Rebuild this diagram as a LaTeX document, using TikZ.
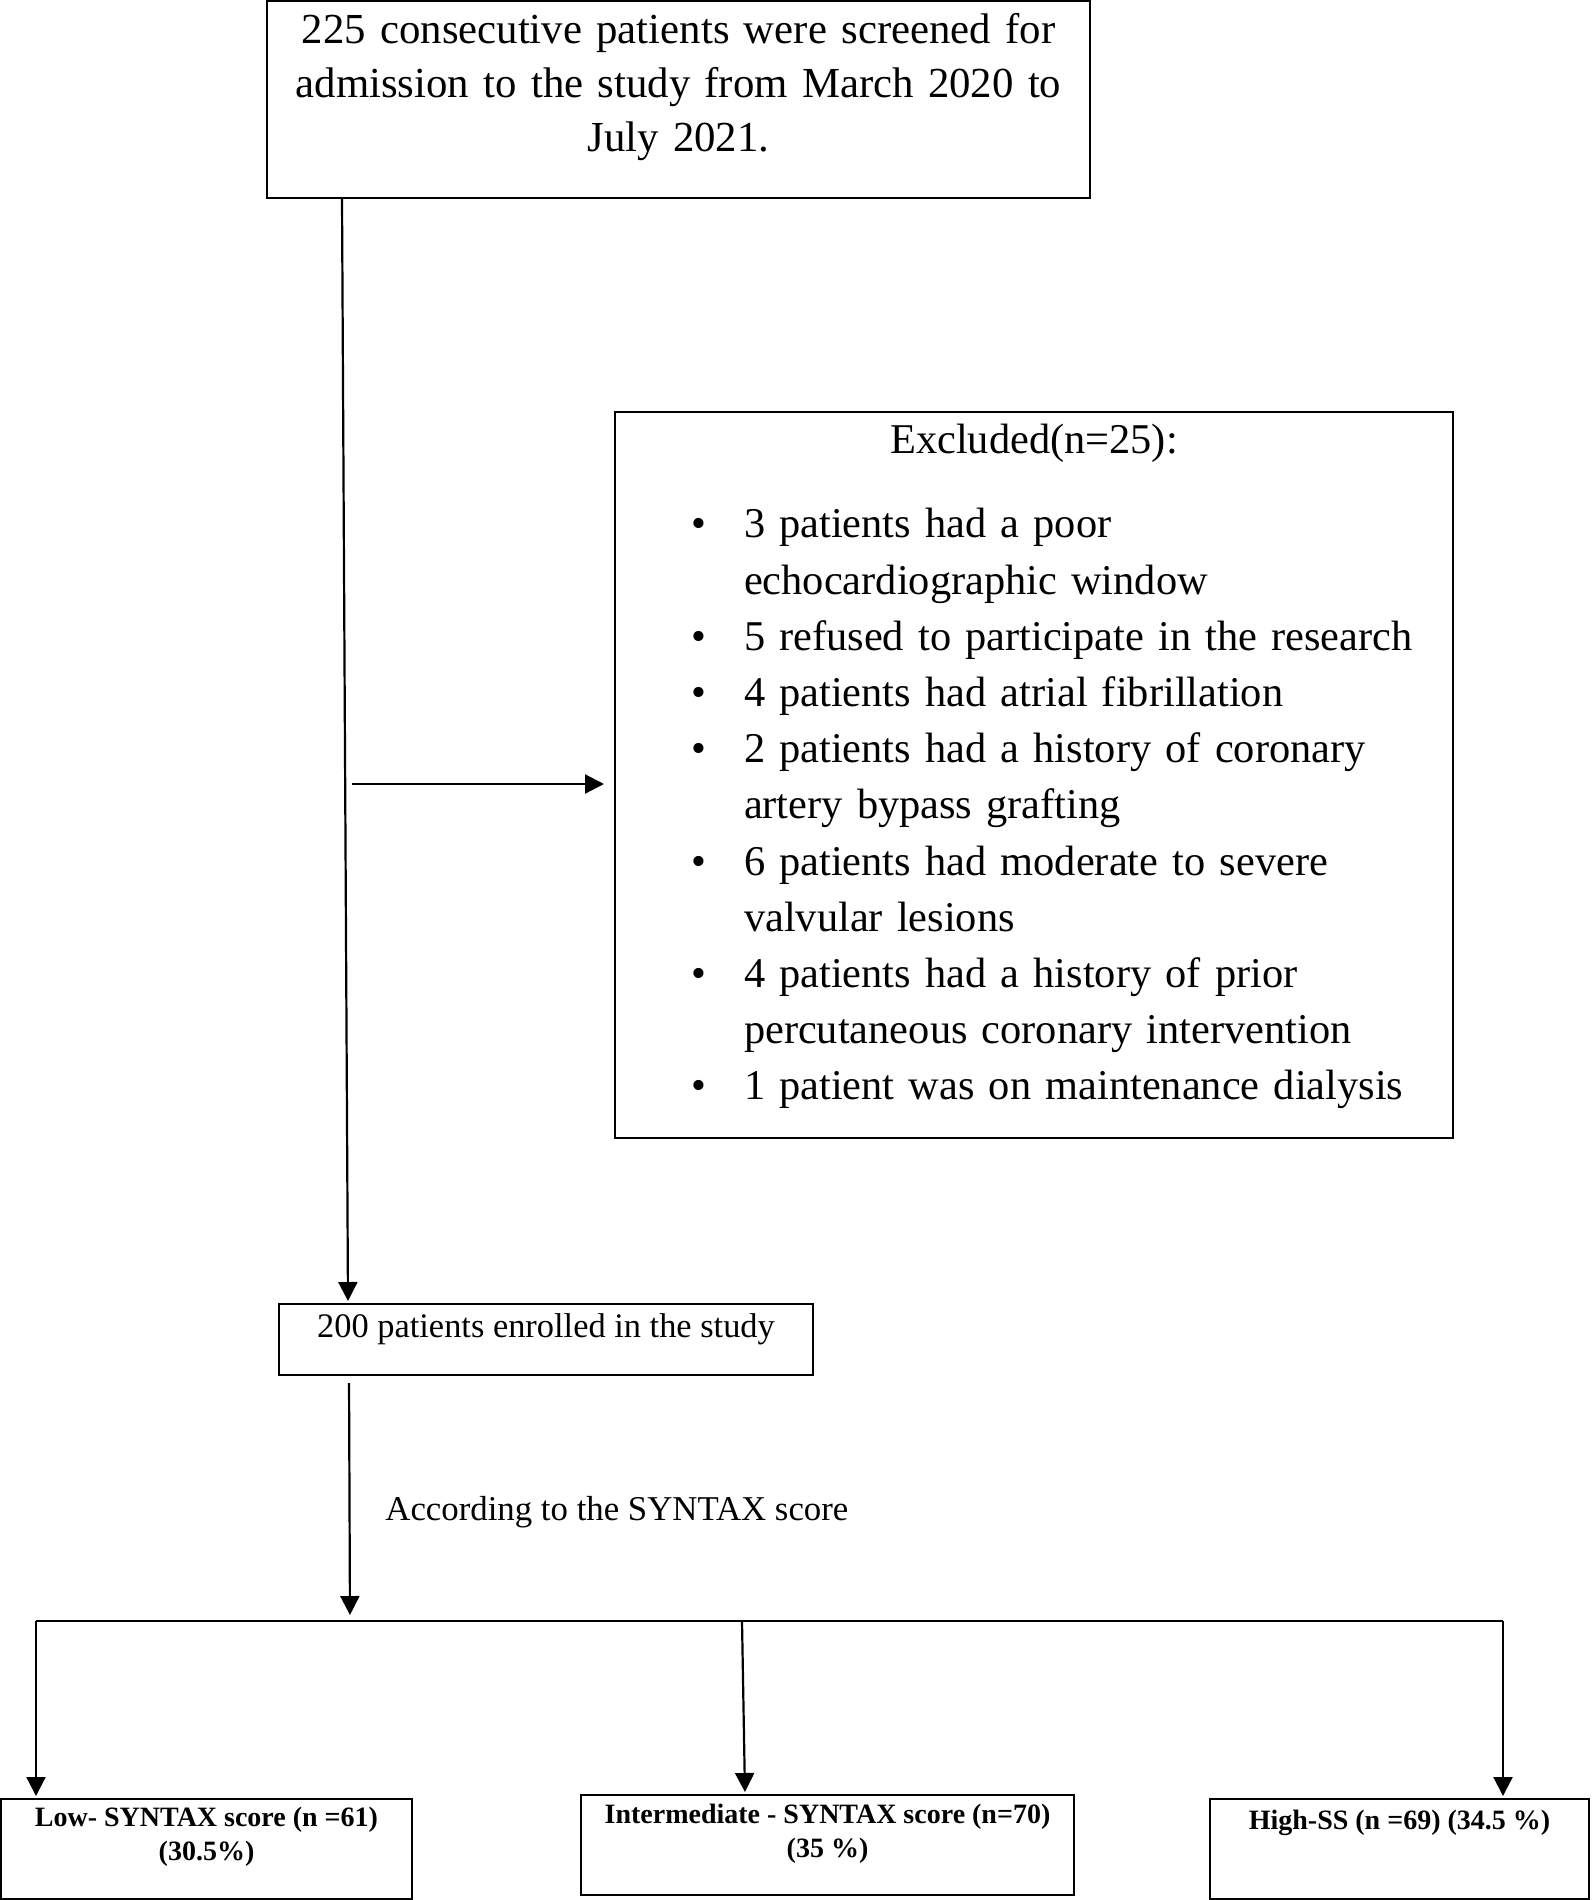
\documentclass[tikz,border=0pt]{standalone}
\usepackage{fontspec}
\setmainfont{Liberation Serif}
\usepackage{enumitem}
\usetikzlibrary{arrows.meta}
\newcommand{\padb}[1]{\rule[-#1]{0pt}{#1}}

\begin{document}
\begin{tikzpicture}[
    x=0.5pt, y=-0.5pt,
    box/.style={rectangle, draw, line width=1pt, align=center, inner sep=0pt},
    arrow/.style={-{Triangle[length=9.5pt, width=9.5pt]}, line width=1.1pt},
    bold/.style={font=\fontsize{14}{17}\selectfont\bfseries}
]
    \useasboundingbox (0,0) rectangle (1594,1900);

    \node[box, minimum width=411.5pt, minimum height=98.5pt, text width=411.5pt, font=\fontsize{21.4}{27}\selectfont] (screen) at (678.5,99.5) {225 consecutive patients were screened for\\ admission to the study from March 2020 to\\ July 2021.\padb{17pt}};

    \node[box, minimum width=419pt, minimum height=363pt, text width=419pt, align=left, font=\fontsize{21.2}{28.1}\selectfont] (excl) at (1034,775) {{\centering Excluded(n=25):\par}\vspace{14pt}
      \begin{itemize}[topsep=0pt, partopsep=0pt, itemsep=0pt, parsep=0pt, leftmargin=64.5pt, labelsep=19pt]
        \item 3 patients had a poor\\ echocardiographic window
        \item 5 refused to participate in the research
        \item 4 patients had atrial fibrillation
        \item 2 patients had a history of coronary\\ artery bypass grafting
        \item 6 patients had moderate to severe\\ valvular lesions
        \item 4 patients had a history of prior\\ percutaneous coronary intervention
        \item 1 patient was on maintenance dialysis\padb{13pt}
      \end{itemize}};

    \node[box, minimum width=267pt, minimum height=35.5pt, font=\fontsize{17.2}{20}\selectfont] (enrol) at (546,1339.5) {200 patients enrolled in the study\padb{14pt}};
    \node[anchor=west, inner sep=0pt, font=\fontsize{17.4}{20}\selectfont] (crit) at (385,1512) {According to the SYNTAX score};

    \node[box, bold, minimum width=205.5pt, minimum height=50pt] (low) at (206.5,1849) {Low- SYNTAX score (n =61)\\ (30.5\%)\padb{15pt}};
    \node[box, bold, minimum width=246.5pt, minimum height=50pt] (mid) at (827.5,1845) {Intermediate - SYNTAX score (n=70)\\ (35 \%)\padb{14pt}};
    \node[box, bold, minimum width=189.5pt, minimum height=50pt] (high) at (1399.5,1849) {High-SS (n =69) (34.5 \%)\padb{29pt}};

    \coordinate (branch) at (352,784);
    \coordinate (split) at (350,1621);
    \coordinate (hl) at (36,1621);
    \coordinate (hm) at (742,1621);
    \coordinate (hr) at (1503,1621);

    \draw[arrow, shorten >=1pt] ([xshift=38pt]screen.south west) -- ([xshift=35pt]enrol.north west);
    \draw[arrow, shorten >=5pt] (branch) -- (branch -| excl.west);
    \draw[arrow, shorten <=3.5pt, shorten >=3pt] ([xshift=35.5pt]enrol.south west) -- (split);
    \draw[line width=1.2pt] (hl) -- (hr);
    \draw[arrow, shorten >=1pt] (hl) -- (hl |- low.north);
    \draw[arrow, shorten >=1pt] (hm) -- ([xshift=82.5pt]mid.north west);
    \draw[arrow, shorten >=1pt] (hr) -- (hr |- high.north);
\end{tikzpicture}
\end{document}
